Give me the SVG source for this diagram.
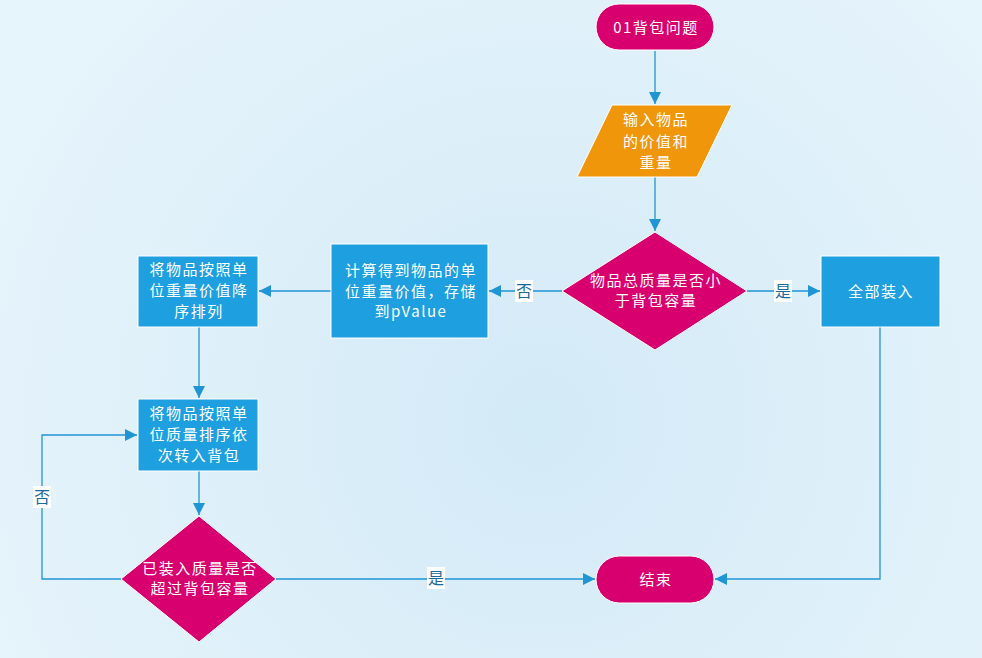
<svg xmlns="http://www.w3.org/2000/svg" width="982" height="658" viewBox="0 0 982 658">
<defs>
<radialGradient id="bg" cx="540" cy="420" r="600" gradientUnits="userSpaceOnUse">
<stop offset="0" stop-color="#d3eaf7"/>
<stop offset="1" stop-color="#e6f4fb"/>
</radialGradient>
<marker id="ah" markerWidth="12" markerHeight="12" refX="10" refY="5" orient="auto" markerUnits="userSpaceOnUse" viewBox="0 0 10 10">
<path d="M0,0 L10,5 L0,10 Z" fill="#1f95d4"/>
</marker>
<style>
.t{font-family:"Noto Sans CJK SC","Microsoft YaHei",sans-serif;font-size:15px;letter-spacing:1.5px;fill:#ffffff;text-anchor:middle}
.pink{fill:#d8006f;stroke:#ffffff;stroke-width:1}
.blue{fill:#1e9fe0;stroke:#ffffff;stroke-width:1}
.orange{fill:#f0960a;stroke:#ffffff;stroke-width:1}
.c{fill:none;stroke:#1f95d4;stroke-width:1.3;marker-end:url(#ah)}
.lb{fill:#ffffff}
.lt{font-family:"Noto Sans CJK SC","Microsoft YaHei",sans-serif;font-size:16px;fill:#1a6a9a;text-anchor:middle}
</style>
</defs>
<rect width="982" height="658" fill="url(#bg)"/>
<g id="connectors">
<path class="c" d="M655,51 L655,104"/>
<path class="c" d="M655,177 L655,231"/>
<path class="c" d="M562,291 L489,291"/>
<path class="c" d="M747,291 L820,291"/>
<path class="c" d="M331,291 L259,291"/>
<path class="c" d="M199,327 L199,398"/>
<path class="c" d="M199,471 L199,515"/>
<path class="c" d="M121,579 L42,579 L42,435 L137,435"/>
<path class="c" d="M276,579 L595,579"/>
<path class="c" d="M880,327 L880,579 L715,579"/>
<rect class="lb" x="515" y="280" width="18" height="22"/>
<text class="lt" x="524" y="297">否</text>
<rect class="lb" x="774" y="280" width="18" height="22"/>
<text class="lt" x="783" y="297">是</text>
<rect class="lb" x="33" y="486" width="18" height="22"/>
<text class="lt" x="42" y="503">否</text>
<rect class="lb" x="427" y="567" width="18" height="22"/>
<text class="lt" x="436" y="584">是</text>
</g>
<g id="start">
<rect class="pink" x="596" y="4" width="118" height="46" rx="23"/>
<text class="t" x="656" y="33">01背包问题</text>
</g>
<g id="input">
<polygon class="orange" points="612,105 732,105 697,177 577,177"/>
<text class="t" x="656" y="125"><tspan x="656">输入物品</tspan><tspan x="656" dy="21.5">的价值和</tspan><tspan x="656" dy="21.5">重量</tspan></text>
</g>
<g id="decision1">
<polygon class="pink" points="655,232 747,291 655,350 562,291"/>
<text class="t" x="656" y="286"><tspan x="656">物品总质量是否小</tspan><tspan x="656" dy="20">于背包容量</tspan></text>
</g>
<g id="compute">
<rect class="blue" x="331" y="244" width="157" height="94"/>
<text class="t" x="411" y="276"><tspan x="411">计算得到物品的单</tspan><tspan x="411" dy="20.5">位重量价值，存储</tspan><tspan x="411" dy="20.5">到pValue</tspan></text>
</g>
<g id="sort">
<rect class="blue" x="138" y="256" width="120" height="71"/>
<text class="t" x="199" y="275"><tspan x="199">将物品按照单</tspan><tspan x="199" dy="21">位重量价值降</tspan><tspan x="199" dy="21">序排列</tspan></text>
</g>
<g id="all">
<rect class="blue" x="821" y="256" width="119" height="71"/>
<text class="t" x="881" y="297">全部装入</text>
</g>
<g id="load">
<rect class="blue" x="138" y="399" width="120" height="72"/>
<text class="t" x="199" y="419"><tspan x="199">将物品按照单</tspan><tspan x="199" dy="21">位质量排序依</tspan><tspan x="199" dy="21">次转入背包</tspan></text>
</g>
<g id="decision2">
<polygon class="pink" points="199,516 276,579 199,642 121,579"/>
<text class="t" x="200" y="574"><tspan x="200">已装入质量是否</tspan><tspan x="200" dy="20">超过背包容量</tspan></text>
</g>
<g id="end">
<rect class="pink" x="596" y="556" width="118" height="47" rx="23.5"/>
<text class="t" x="656" y="585">结束</text>
</g>
</svg>
